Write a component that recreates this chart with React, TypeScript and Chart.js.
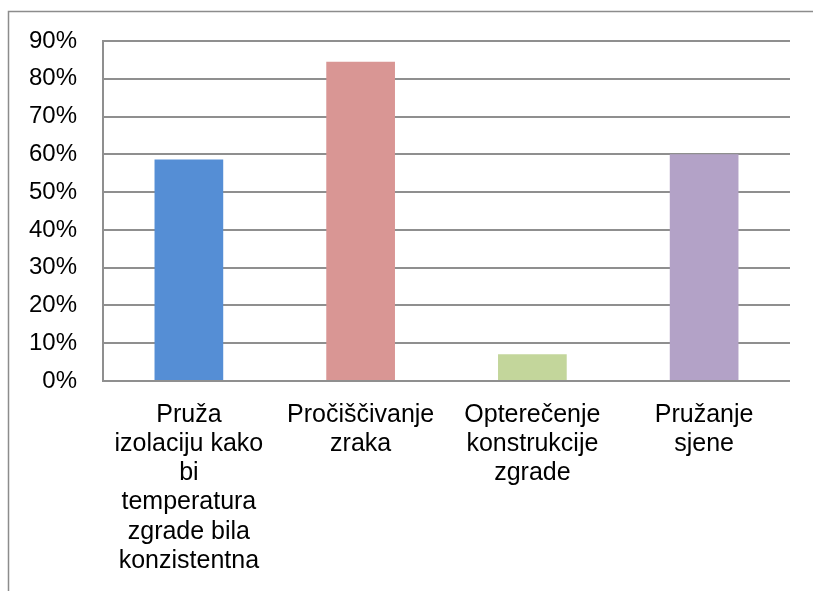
import React, { useEffect, useRef } from "react";
import { Chart, registerables } from "chart.js";

Chart.register(...registerables);

const categories: string[][] = [
  ["Pruža", "izolaciju kako", "bi", "temperatura", "zgrade bila", "konzistentna"],
  ["Pročiščivanje", "zraka"],
  ["Opterečenje", "konstrukcije", "zgrade"],
  ["Pružanje", "sjene"],
];
const values: number[] = [58.6, 84.5, 7.1, 60.0];
const barColors: string[] = ["#558ED5", "#D99694", "#C3D69B", "#B3A2C7"];
const yMin = 0;
const yMax = 90;
const yStep = 10;

const framePlugin = {
  id: "frame",
  beforeDraw(chart: any) {
    const ctx = chart.ctx;
    ctx.save();
    ctx.fillStyle = "#ffffff";
    ctx.fillRect(0, 0, chart.width, chart.height);
    ctx.strokeStyle = "#8c8c8c";
    ctx.lineWidth = 1.5;
    ctx.strokeRect(8.5, 11.5, chart.width + 20, chart.height + 20);
    ctx.restore();
  },
};

export default function App() {
  const ref = useRef<HTMLCanvasElement | null>(null);
  useEffect(() => {
    if (!ref.current) return;
    const family = "'Liberation Sans', Arial, sans-serif";
    const chart = new Chart(ref.current, {
      type: "bar",
      data: {
        labels: categories,
        datasets: [
          {
            data: values,
            backgroundColor: barColors,
            barPercentage: 0.4,
            categoryPercentage: 1,
          },
        ],
      },
      options: {
        animation: false,
        responsive: false,
        maintainAspectRatio: false,
        layout: { padding: { top: 41, right: 23, left: 0, bottom: 0 } },
        plugins: { legend: { display: false }, tooltip: { enabled: false } },
        scales: {
          x: {
            grid: { display: false, drawTicks: false },
            border: { display: false },
            ticks: {
              color: "#000",
              font: { family, size: 25, lineHeight: 1.17 },
              maxRotation: 0,
              autoSkip: false,
              padding: 19,
            },
            afterFit(scale: any) {
              scale.height = 210;
            },
          },
          y: {
            min: yMin,
            max: yMax,
            grid: { color: "#8f8f8f", lineWidth: 2, drawTicks: false },
            border: { display: true, color: "#8f8f8f", width: 2 },
            ticks: {
              stepSize: yStep,
              color: "#000",
              font: { family, size: 24 },
              padding: 26,
              callback: (v: any) => v + "%",
            },
            afterFit(scale: any) {
              scale.width = 103;
            },
          },
        },
      },
      plugins: [framePlugin],
    });
    return () => chart.destroy();
  }, []);
  return (
    <div style={{ position: "absolute", left: 0, top: 0, width: 813, height: 591 }}>
      <canvas ref={ref} width={813} height={591} style={{ display: "block" }} />
    </div>
  );
}
